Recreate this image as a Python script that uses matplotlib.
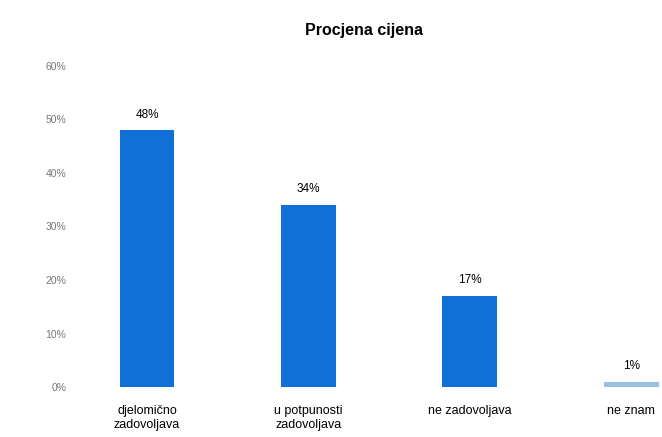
import matplotlib
matplotlib.use("Agg")
import matplotlib.pyplot as plt
import numpy as np

plt.rcParams['font.family'] = ['Liberation Sans', 'DejaVu Sans']

categories = ['djelomično\nzadovoljava', 'u potpunosti\nzadovoljava', 'ne zadovoljava', 'ne znam']
values = [48, 34, 17, 1]
value_labels = ['48%', '34%', '17%', '1%']
colors = ['#1170d8', '#1170d8', '#1170d8', '#9cc0e4']

fig = plt.figure(figsize=(6.62, 4.37), dpi=100)
ax = fig.add_axes([0.136, 0.1144, 0.864, 0.7346])

x = np.arange(len(categories))
bars = ax.bar(x, values, width=0.34, color=colors)
for i, v in enumerate(values):
    ax.text(x[i], v + 1.8, value_labels[i], ha='center', va='bottom', fontsize=8.5)

ax.set_xticks(x)
ax.set_xticklabels(categories, fontsize=9, linespacing=1.2)
ax.set_ylim(0, 60)
ax.set_xlim(-0.353, 3.19)
ax.set_yticks(range(0, 61, 10))
ax.set_yticklabels([f'{t}%' for t in range(0, 61, 10)], fontsize=7.5, color='#777777')
ax.tick_params(length=0)
ax.tick_params(axis='y', pad=17)
ax.tick_params(axis='x', pad=13)
for s in ax.spines.values():
    s.set_visible(False)

fig.text(0.55, 0.93, 'Procjena cijena', ha='center', va='center', fontsize=11.5, fontweight='bold')

fig.savefig('out.png', dpi=100)
